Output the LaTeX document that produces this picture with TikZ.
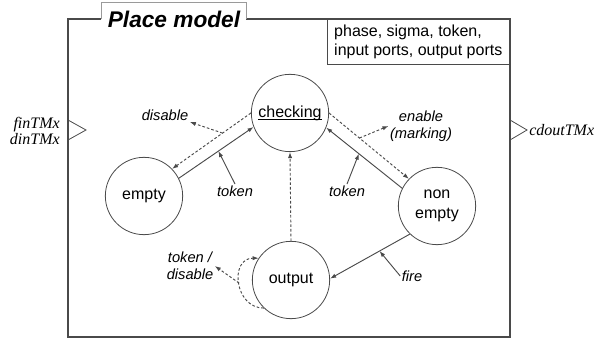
\documentclass[tikz,border=0pt]{standalone}
\usepackage{fontspec}
\setmainfont{Liberation Serif}
\setsansfont{Liberation Sans}
\usepackage{tikz}
\usetikzlibrary{arrows.meta}
\definecolor{edge}{HTML}{4A4A4A}
\definecolor{rim}{HTML}{9A9A9A}
\newcommand{\ulabel}[1]{\underline{\raisebox{0pt}[\height][0pt]{#1}}}

\begin{document}
\begin{tikzpicture}[x=0.75pt,y=-0.75pt,
  state/.style={circle,draw=edge,line width=0.6pt,minimum size=58pt,inner sep=0pt,
    align=center,font=\sffamily\fontsize{12}{15}\selectfont},
  lbl/.style={inner sep=1pt,align=center,font=\sffamily\itshape\fontsize{11}{12.5}\selectfont},
  port/.style={inner sep=0pt,font=\itshape\fontsize{12}{12}\selectfont},
  flow/.style={draw=edge,line width=0.7pt,-{Latex[length=4.5pt,width=3.2pt]}},
  cue/.style={flow,dash pattern=on 2pt off 1.5pt}]
  \useasboundingbox (0,0) rectangle (599,341);
  \draw[edge,line width=0.9pt] (101,19)--(68,19)--(68,337)--(510,337)--(510,19)--(246,19);
  \draw[rim,line width=0.6pt] (101,19)--(101,2)--(246,2)--(246,19);
  \node[font=\sffamily\bfseries\itshape\fontsize{17}{19}\selectfont] (title) at (174,19) {Place model};
  \node[draw=edge,line width=0.6pt,anchor=north east,minimum width=137pt,minimum height=34pt,
    align=left,font=\sffamily\fontsize{12}{14}\selectfont] (vars) at (510,19) {phase, sigma, token,\\input ports, output ports};
  \draw[edge,line width=0.6pt] (68,120)--(86,130)--(68,140);
  \draw[edge,line width=0.6pt] (510,120)--(527,130)--(510,140);
  \node[port,anchor=east,align=right] (inport) at (60,131) {finTMx\\dinTMx};
  \node[port,anchor=west] (outport) at (529,130) {cdoutTMx};

  \node[state] (checking) at (290,113) {\ulabel{checking}};
  \node[state] (empty) at (144,196) {empty};
  \node[state] (nonempty) at (437,206) {non\\empty};
  \node[state] (output) at (291,280) {output};

  \draw[flow] (empty.27) -- coordinate[pos=0.53] (tokA) (checking.201);
  \draw[cue] (checking.180) -- coordinate[pos=0.36] (disA) (empty.44);
  \draw[cue] (checking.0) -- coordinate[pos=0.38] (enA) (nonempty.136);
  \draw[flow] (nonempty.153) -- coordinate[pos=0.57] (tokB) (checking.338);
  \draw[flow] (nonempty.226) -- coordinate[pos=0.38] (fireA) (output.2);
  \draw[cue] (output.north) -- (checking.south);
  \draw[cue] (output.226) to[out=180,in=180,looseness=1.5] coordinate[pos=0.5] (loopA) (output.146);

  \node[lbl] (disable) at (165,115) {disable};
  \draw[cue] (disA) -- (disable.south east);
  \node[lbl] (tokenA) at (235,191) {token};
  \draw[flow] (tokenA.north) -- (tokA);
  \node[lbl] (enable) at (421,126) {enable\\(marking)};
  \draw[cue] (enA) -- (enable.west);
  \node[lbl] (tokenB) at (347,191) {token};
  \draw[flow] (tokenB.north) -- (tokB);
  \node[lbl] (fire) at (412,276) {fire};
  \draw[flow] (fire.west) -- (fireA);
  \node[lbl] (tokdis) at (190,266) {token /\\disable};
  \draw[cue] (loopA) -- (tokdis.east);
\end{tikzpicture}
\end{document}
